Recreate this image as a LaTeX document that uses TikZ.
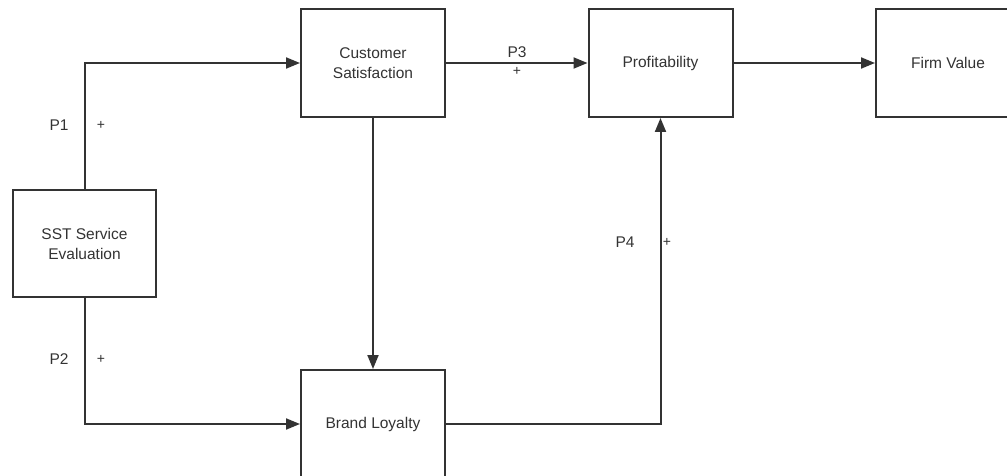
\documentclass[tikz,border=0pt]{standalone}
\usepackage{fontspec}
\setmainfont{Liberation Sans}
\usetikzlibrary{arrows.meta}
\definecolor{ink}{HTML}{333333}
\begin{document}
\begin{tikzpicture}[x=1pt,y=-1pt,
  box/.style={draw=ink,line width=2pt,fill=white,minimum width=144pt,minimum height=108pt,
    align=center,inner sep=0pt,text=ink,font=\fontsize{15.5}{20}\selectfont},
  lbl/.style={text=ink,inner sep=0pt,font=\fontsize{15.5}{18}\selectfont},
  sign/.style={text=ink,inner sep=0pt,font=\fontsize{14}{16}\selectfont},
  link/.style={draw=ink,line width=2pt,-{Triangle[length=14pt,width=11pt]}}]
\useasboundingbox (0,0) rectangle (1007,476);
\node[box,minimum width=143pt,minimum height=107pt] (sst) at (84.5,243.5) {SST Service\\Evaluation};
\node[box] (cs) at (373,63) {Customer\\Satisfaction};
\node[box] (prof) at (660.5,63) {Profitability};
\node[box] (fv) at (948,63) {Firm Value};
\node[box] (bl) at (373,424) {Brand Loyalty};
\draw[link] (sst.north) |- (cs.west);
\draw[link] (sst.south) |- (bl.west);
\draw[link] (cs.east) -- (prof.west);
\draw[link] (prof.east) -- (fv.west);
\draw[link] (cs.south) -- (bl.north);
\draw[link] (bl.east) -| (prof.south);
\node[lbl] (p1) at (59,125) {P1};
\node[sign] (p1s) at (101,125) {+};
\node[lbl] (p2) at (59,359) {P2};
\node[sign] (p2s) at (101,359) {+};
\node[lbl] (p3) at (517,52) {P3};
\node[sign] (p3s) at (517,71) {+};
\node[lbl] (p4) at (625,242) {P4};
\node[sign] (p4s) at (667,242) {+};
\end{tikzpicture}
\end{document}
